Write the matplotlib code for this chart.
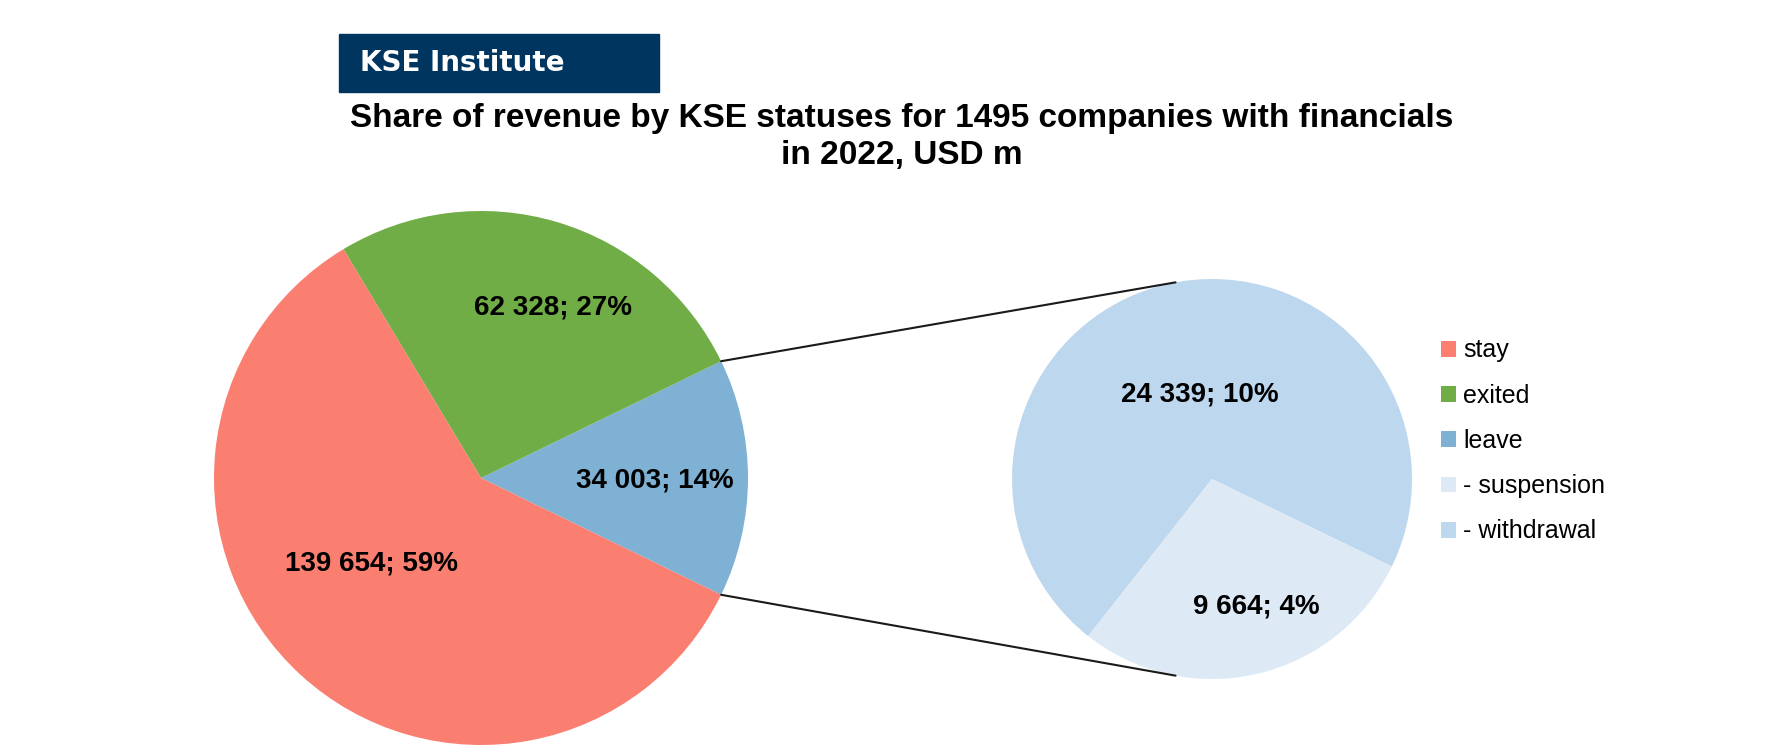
import numpy as np
import matplotlib.pyplot as plt
from matplotlib.patches import ConnectionPatch, Rectangle

plt.rcParams["font.family"] = ["Liberation Sans", "DejaVu Sans"]

# ─── Data ──────────────────────────────────────────────────────────────────────
main_labels = ["stay", "exited", "leave"]
main_values = [139654, 62328, 34003]
main_pcts = [59, 27, 14]          # as printed on the chart
sub_labels = ["- suspension", "- withdrawal"]
sub_values = [9664, 24339]
sub_pcts = [4, 10]

main_colors = {"stay": "#FA7F70", "exited": "#70AD47", "leave": "#7FB1D4"}
sub_colors = {"- suspension": "#DDEAF6", "- withdrawal": "#BDD7EE"}

total = sum(main_values)


def fmt(v, p):
    return f"{v:,.0f}".replace(",", " ") + f"; {p}%"


fig = plt.figure(figsize=(17.82, 7.56), dpi=100)

# header box + title
fig.patches.append(Rectangle((339 / 1782, 1 - 92 / 756), 320 / 1782, 58 / 756,
                             transform=fig.transFigure, color="#003560", zorder=0))
fig.text(360 / 1782, 1 - 63 / 756, "KSE Institute", color="white", fontsize=20,
         fontweight="bold", family="DejaVu Sans", va="center", ha="left")
fig.text(902 / 1782, 1 - 137 / 756,
         "Share of revenue by KSE statuses for 1495 companies with financials\nin 2022, USD m",
         fontsize=24, fontweight="bold", ha="center", va="center", linespacing=1.22)

# ─── Main pie (leave slice centred on the right) ───────────────────────────────
ax1 = fig.add_axes([(481 - 267) / 1782, 1 - (478 + 267) / 756, 534 / 1782, 534 / 756])
leave_half = 180 * main_values[2] / total
order = [2, 1, 0]  # leave, exited, stay going counter-clockwise
w1, _ = ax1.pie([main_values[i] for i in order],
                colors=[main_colors[main_labels[i]] for i in order],
                startangle=-leave_half, counterclock=True, radius=1)
ax1.set_xlim(-1, 1); ax1.set_ylim(-1, 1)
ax1.set_aspect("equal")

main_pos = {"stay": (-0.41, -0.32), "exited": (0.27, 0.64), "leave": (0.65, -0.01)}
for i in order:
    lab = main_labels[i]
    x, y = main_pos[lab]
    ax1.text(x, y, fmt(main_values[i], main_pcts[i]), ha="center", va="center",
             fontsize=20, fontweight="bold")

# ─── Secondary pie (breakdown of leave) ────────────────────────────────────────
ax2 = fig.add_axes([(1212 - 200) / 1782, 1 - (479 + 200) / 756, 400 / 1782, 400 / 756])
w2, _ = ax2.pie([sub_values[1], sub_values[0]],
                colors=[sub_colors[sub_labels[1]], sub_colors[sub_labels[0]]],
                startangle=-leave_half, counterclock=True, radius=1)
ax2.set_xlim(-1, 1); ax2.set_ylim(-1, 1)
ax2.set_aspect("equal")

sub_pos = {"- withdrawal": (-0.06, 0.42), "- suspension": (0.22, -0.64)}
for lab, v, p in zip(sub_labels, sub_values, sub_pcts):
    x, y = sub_pos[lab]
    ax2.text(x, y, fmt(v, p), ha="center", va="center", fontsize=20, fontweight="bold")

# connector lines
leave_wedge = w1[0]
for th_a, th_b in [(leave_wedge.theta2, 100.5), (leave_wedge.theta1, -100.5)]:
    xa, ya = np.cos(np.radians(th_a)), np.sin(np.radians(th_a))
    xb, yb = np.cos(np.radians(th_b)), np.sin(np.radians(th_b))
    con = ConnectionPatch(xyA=(xa, ya), coordsA=ax1.transData,
                          xyB=(xb, yb), coordsB=ax2.transData,
                          color="#1a1a1a", lw=1.5)
    fig.add_artist(con)

# ─── Legend ────────────────────────────────────────────────────────────────────
handles = [w1[2], w1[1], w1[0], w2[1], w2[0]]
labels = main_labels + sub_labels
fig.legend(handles, labels, loc="center left",
           bbox_to_anchor=(1418 / 1782, 1 - 441 / 756), frameon=False,
           fontsize=18, handlelength=0.6, handleheight=0.6, handletextpad=0.3,
           labelspacing=0.85)

fig.savefig("out.png", dpi=100, facecolor="white")
